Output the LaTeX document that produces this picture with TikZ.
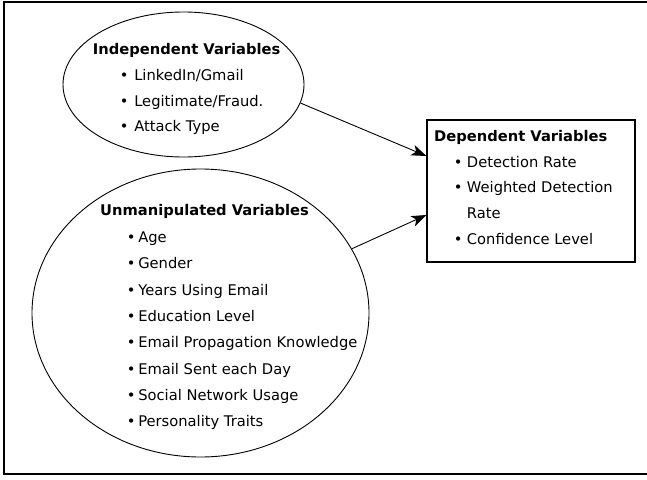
\documentclass[tikz,border=0pt]{standalone}
\usepackage{fontspec}
\setmainfont{DejaVu Sans}
\usetikzlibrary{shapes.geometric,arrows.meta}
\begin{document}
\begin{tikzpicture}[x=1pt,y=-1pt,
  oval/.style={draw, ellipse, line width=0.9pt, inner sep=0pt},
  dvbox/.style={draw, line width=1.2pt, inner sep=0pt},
  title/.style={font=\fontsize{14.7}{16}\selectfont\bfseries, inner sep=0pt},
  item/.style={font=\fontsize{14.7}{16}\selectfont, inner sep=0pt, anchor=base west},
  link/.style={line width=0.9pt, -{Stealth[length=15pt,width=11pt,inset=4pt]}}
]
\useasboundingbox (0,0) rectangle (647,479);
\draw[line width=1.8pt] (650,2) -- (4,2) -- (4,474) -- (650,474);

% shapes
\node[oval, minimum width=241pt, minimum height=145pt] (up) at (183.5,84.5) {};
\node[oval, minimum width=337pt, minimum height=288pt] (low) at (200.5,313) {};
\node[dvbox, minimum width=208pt, minimum height=142pt] (dv) at (531,191) {};

% independent
\node[title, anchor=base] (upt) at (186.7,54) {Independent Variables};
\node[item] (u1) at (119.7,80)  {•\hspace{5.7pt}LinkedIn/Gmail};
\node[item] (u2) at (119.7,106) {•\hspace{5.7pt}Legitimate/Fraud.};
\node[item] (u3) at (119.7,131.5) {•\hspace{5.7pt}Attack Type};

% unmanipulated
\node[title, anchor=base] (lowt) at (204.5,215.7) {Unmanipulated Variables};
\node[item] (l1) at (126.7,242.3) {•\hspace{2.7pt}Age};
\node[item] (l2) at (126.7,268.6) {•\hspace{2.7pt}Gender};
\node[item] (l3) at (126.7,295.0) {•\hspace{2.7pt}Years Using Email};
\node[item] (l4) at (126.7,321.3) {•\hspace{2.7pt}Education Level};
\node[item] (l5) at (126.7,347.7) {•\hspace{2.7pt}Email Propagation Knowledge};
\node[item] (l6) at (126.7,374.0) {•\hspace{2.7pt}Email Sent each Day};
\node[item] (l7) at (126.7,400.3) {•\hspace{2.7pt}Social Network Usage};
\node[item] (l8) at (126.7,426.7) {•\hspace{2.7pt}Personality Traits};

% dependent
\node[title, anchor=base west] (dvt) at (434,141) {Dependent Variables};
\node[item] (d1) at (453.7,167.3) {•\hspace{4.4pt}Detection Rate};
\node[item] (d2) at (453.7,192.9) {•\hspace{4.4pt}Weighted Detection};
\node[item] (d2b) at (466.7,218.5) {Rate};
\node[item] (d3) at (453.7,244.1) {•\hspace{4.4pt}Confidence Level};

% connectors
\coordinate (t1) at ([yshift=35pt]dv.west);
\coordinate (t2) at ([yshift=-24pt]dv.west);
\draw[link] (up.-9) -- (t1);
\draw[link] (low.23.7) -- (t2);
\end{tikzpicture}
\end{document}
